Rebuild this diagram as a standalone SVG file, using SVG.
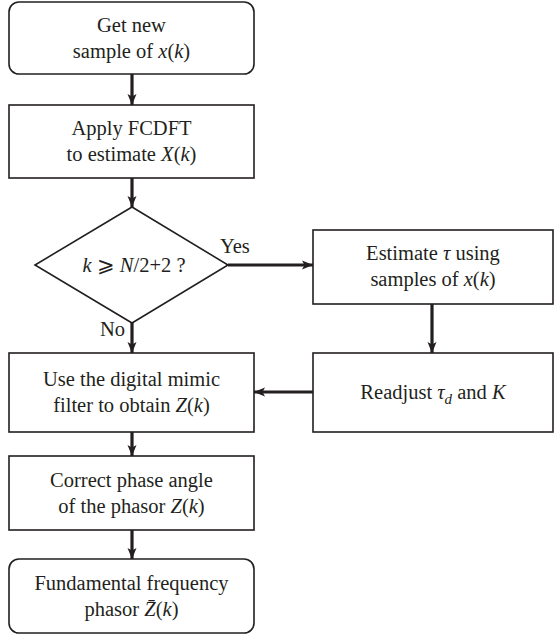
<svg xmlns="http://www.w3.org/2000/svg" width="555" height="635" viewBox="0 0 555 635">
<style>
text{font-family:'Liberation Serif','Times New Roman',serif}
.box{fill:#fff;stroke:#231f20;stroke-width:1.6}
.t{font-size:20.5px;fill:#231f20;text-anchor:middle}
.l{font-size:20.5px;fill:#231f20}
.i{font-style:italic}
.c{fill:none;stroke:#231f20;stroke-width:3.2}
</style>
<defs>
<marker id="ah" markerUnits="userSpaceOnUse" markerWidth="12" markerHeight="12" viewBox="0 0 12 12" refX="11" refY="6" orient="auto">
<path d="M0,1.5 L11,6 L0,10.5 L2.5,6 Z" fill="#231f20"/>
</marker>
</defs>
<rect width="555" height="635" fill="#fff"/>
<g id="connectors">
<line class="c" x1="132" y1="74" x2="132" y2="105" marker-end="url(#ah)"/>
<line class="c" x1="132" y1="178" x2="132" y2="207" marker-end="url(#ah)"/>
<line class="c" x1="228" y1="265" x2="313" y2="265" marker-end="url(#ah)"/>
<line class="c" x1="132" y1="323" x2="132" y2="353" marker-end="url(#ah)"/>
<line class="c" x1="432" y1="304" x2="432" y2="353" marker-end="url(#ah)"/>
<line class="c" x1="313" y1="392" x2="254" y2="392" marker-end="url(#ah)"/>
<line class="c" x1="132" y1="432" x2="132" y2="456" marker-end="url(#ah)"/>
<line class="c" x1="132" y1="530" x2="132" y2="559" marker-end="url(#ah)"/>
<text class="l" x="220" y="253">Yes</text>
<text class="l" x="100" y="336">No</text>
</g>
<g id="n1">
<rect class="box" x="9" y="2" width="245" height="72" rx="10"/>
<text class="t" x="131.5" y="32">Get new</text>
<text class="t" x="131.5" y="58">sample of <tspan class="i">x</tspan>(<tspan class="i">k</tspan>)</text>
</g>
<g id="n2">
<rect class="box" x="9" y="105" width="245" height="73"/>
<text class="t" x="131.5" y="135">Apply FCDFT</text>
<text class="t" x="131.5" y="161">to estimate <tspan class="i">X</tspan>(<tspan class="i">k</tspan>)</text>
</g>
<g id="n3">
<polygon class="box" points="132,207 228,265 132,323 35,265"/>
<text class="t" x="134" y="272"><tspan class="i">k</tspan> ⩾ <tspan class="i">N</tspan>/2+2 ?</text>
</g>
<g id="n4">
<rect class="box" x="313" y="230" width="240" height="74"/>
<text class="t" x="433" y="260">Estimate <tspan class="i">τ</tspan> using</text>
<text class="t" x="433" y="286">samples of <tspan class="i">x</tspan>(<tspan class="i">k</tspan>)</text>
</g>
<g id="n5">
<rect class="box" x="313" y="353" width="240" height="79"/>
<text class="t" x="433" y="399">Readjust <tspan class="i">τ</tspan><tspan class="i" font-size="15" dy="5">d</tspan><tspan dy="-5"> and </tspan><tspan class="i">K</tspan></text>
</g>
<g id="n6">
<rect class="box" x="9" y="353" width="245" height="79"/>
<text class="t" x="131.5" y="386">Use the digital mimic</text>
<text class="t" x="131.5" y="412">filter to obtain <tspan class="i">Z</tspan>(<tspan class="i">k</tspan>)</text>
</g>
<g id="n7">
<rect class="box" x="9" y="456" width="245" height="74"/>
<text class="t" x="131.5" y="487">Correct phase angle</text>
<text class="t" x="131.5" y="513">of the phasor <tspan class="i">Z</tspan>(<tspan class="i">k</tspan>)</text>
</g>
<g id="n8">
<rect class="box" x="9" y="559" width="245" height="74" rx="10"/>
<text class="t" x="131.5" y="590">Fundamental frequency</text>
<text class="t" x="131.5" y="616">phasor <tspan class="i">Z̄</tspan>(<tspan class="i">k</tspan>)</text>
</g>
</svg>
